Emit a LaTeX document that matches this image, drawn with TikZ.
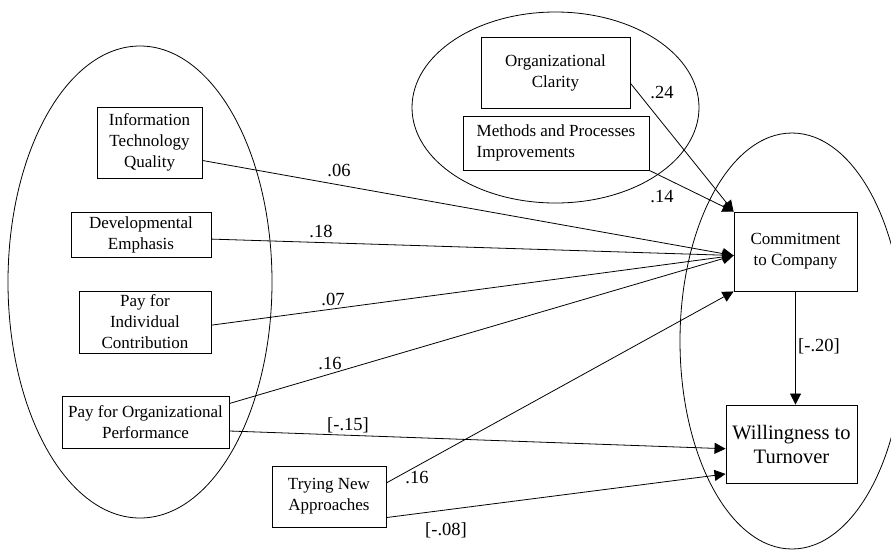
\documentclass[tikz,border=0pt]{standalone}
\usepackage{fontspec}
\setmainfont{Liberation Serif}
\usetikzlibrary{arrows.meta,calc}

\tikzset{
  boxtext/.style={font=\fontsize{17}{21}\selectfont},
  varbox/.style={draw, line width=0.9pt, fill=white, inner sep=0pt, align=center, boxtext},
  conn/.style={line width=0.8pt},
  arr/.style={conn, -{Triangle[length=11pt,width=11pt]}},
  coef/.style={font=\fontsize{18.5}{22}\selectfont, inner sep=0pt},
  grp/.style={line width=0.8pt}
}

\begin{document}
\begin{tikzpicture}[x=1pt,y=-1pt]
\useasboundingbox (0,0) rectangle (891,550);

% grouping ellipses
\draw[grp] (140,282) ellipse [x radius=132pt, y radius=236pt];
\draw[grp] (555.5,107.5) ellipse [x radius=143.5pt, y radius=95.5pt];
\draw[grp] (792,341) ellipse [x radius=112pt, y radius=208pt];

% variables
\node[varbox, minimum width=105pt, minimum height=71pt] (itq) at (149.5,142.5) {Information\\Technology\\Quality};
\node[varbox, minimum width=140pt, minimum height=45pt] (dev) at (141,234.5) {Developmental\\Emphasis};
\node[varbox, minimum width=132pt, minimum height=62pt] (pin) at (145,322) {Pay for\\Individual\\Contribution};
\node[varbox, minimum width=167pt, minimum height=52pt] (pop) at (145.5,422) {Pay for Organizational\\Performance};
\node[varbox, minimum width=114pt, minimum height=61pt] (tna) at (329,496.5) {Trying New\\Approaches};
\node[varbox, minimum width=149pt, minimum height=71pt] (ocl) at (555.5,72.5) {Organizational\\Clarity};
\node[varbox, minimum width=186pt, minimum height=54pt, align=left] (mpi) at (556,143) {Methods and Processes\\Improvements};
\node[varbox, minimum width=123pt, minimum height=79pt] (cc) at (795.5,251.5) {Commitment\\to Company};
\node[varbox, minimum width=131pt, minimum height=78pt, font=\fontsize{20.5}{24}\selectfont] (wt) at (791.5,444) {Willingness to\\Turnover};

% arrow end points on the outcome boxes
\coordinate (cin) at ($(cc.north west)!0.55!(cc.south west)$);
\coordinate (win) at ($(wt.north west)!0.56!(wt.south west)$);
\coordinate (wlow) at ($(wt.north west)!0.88!(wt.south west)$);

% paths
\draw[arr] ($(itq.north east)!0.75!(itq.south east)$) -- (cin);
\draw[arr] ($(dev.north east)!0.6!(dev.south east)$) -- (cin);
\draw[arr] ($(pin.north east)!0.55!(pin.south east)$) -- (cin);
\draw[arr] ($(pop.north east)!0.15!(pop.south east)$) -- (cin);
\draw[arr] ($(pop.north east)!0.67!(pop.south east)$) -- (win);
\draw[arr] ($(tna.north east)!0.28!(tna.south east)$) -- (cc.south west);
\draw[arr] ($(tna.north east)!0.84!(tna.south east)$) -- (wlow);
\draw[arr] ($(ocl.north east)!0.65!(ocl.south east)$) -- (cc.north west);
\draw[arr] (mpi.south east) -- (cc.north west);
\draw[arr] (cc.south) -- (cc.south |- wt.north);

% path coefficients
\node[coef] (c1) at (339,170) {.06};
\node[coef] (c2) at (321,231) {.18};
\node[coef] (c3) at (333,299) {.07};
\node[coef] (c4) at (330,363) {.16};
\node[coef] (c5) at (348,425) {[-.15]};
\node[coef] (c6) at (417,477) {.16};
\node[coef] (c7) at (446,530) {[-.08]};
\node[coef] (c8) at (662,92) {.24};
\node[coef] (c9) at (662,197) {.14};
\node[coef, anchor=west] (c10) at (798,346) {[-.20]};
\end{tikzpicture}
\end{document}
